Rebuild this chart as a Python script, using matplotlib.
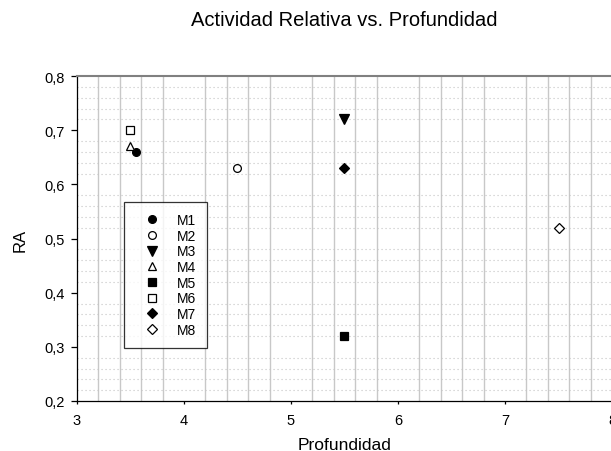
import matplotlib

matplotlib.use("Agg")
import matplotlib.pyplot as plt
import numpy as np
from matplotlib.ticker import FixedLocator, FuncFormatter

plt.rcParams["font.family"] = ["Liberation Sans", "DejaVu Sans"]

# Depth / relative activity per sample
labels = ["M1", "M2", "M3", "M4", "M5", "M6", "M7", "M8"]
depth = [3.55, 4.5, 5.5, 3.5, 5.5, 3.5, 5.5, 7.5]
ra = [0.66, 0.63, 0.72, 0.67, 0.32, 0.70, 0.63, 0.52]

styles = [
    ("o", "black"),
    ("o", "white"),
    ("v", "black"),
    ("^", "white"),
    ("s", "black"),
    ("s", "white"),
    ("D", "black"),
    ("D", "white"),
]
sizes = [5.6, 5.6, 7.2, 5.8, 5.6, 5.6, 5.4, 5.4]

W, H = 611, 452
fig = plt.figure(figsize=(W / 100, H / 100), dpi=100)
# right end (x = 8) sits just past the figure edge
ax = fig.add_axes([77 / W, 50 / H, 535 / W, 325 / H])

for lab, x, y, (m, fc), s in zip(labels, depth, ra, styles, sizes):
    ax.plot([x], [y], linestyle="none", marker=m, markersize=s,
            markerfacecolor=fc, markeredgecolor="black", markeredgewidth=0.9,
            label=lab)

ax.set_xlim(3, 8)
ax.set_ylim(0.2, 0.8)

# grid: solid verticals every 0.2, dotted horizontals every 0.02
xminor = [v for v in np.arange(3.2, 8.0, 0.2) if abs(v - round(v)) > 1e-6]
yminor = [v for v in np.arange(0.22, 0.8, 0.02) if abs(v * 10 - round(v * 10)) > 1e-6]
for v in xminor:
    ax.axvline(v, color="#c8c8c8", linewidth=1.0, zorder=0)
for v in yminor:
    ax.axhline(v, color="#c4c4c4", linewidth=0.8, linestyle=(0, (1, 2.6)), zorder=0)

ax.xaxis.set_major_locator(FixedLocator([3, 4, 5, 6, 7, 8]))
ax.yaxis.set_major_locator(FixedLocator([0.2, 0.3, 0.4, 0.5, 0.6, 0.7, 0.8]))
ax.yaxis.set_major_formatter(FuncFormatter(lambda v, p: f"{v:.1f}".replace(".", ",")))
ax.xaxis.set_major_formatter(FuncFormatter(lambda v, p: f"{v:g}"))
ax.tick_params(axis="y", direction="out", length=4, width=0.9, labelsize=10.5, pad=5)
ax.tick_params(axis="x", direction="out", length=2.5, width=0.9, labelsize=10.5, pad=6.5)

ax.spines["top"].set_color("#808080")
ax.spines["top"].set_linewidth(1.5)
ax.spines["left"].set_linewidth(0.9)
ax.spines["bottom"].set_linewidth(0.9)
ax.spines["right"].set_visible(False)

fig.text(344.5 / W, 1 - 450.5 / H, "Profundidad", ha="center", va="baseline",
         fontsize=12.5)
fig.text(20 / W, 1 - 240 / H, "RA", ha="center", va="center", rotation=90,
         fontsize=12)
fig.text(344.5 / W, 1 - 21 / H, "Actividad Relativa vs. Profundidad",
         ha="center", va="center", fontsize=14.5)

leg = ax.legend(loc="upper left", bbox_to_anchor=(47 / 535, 1 - 126 / 325),
                frameon=True, fancybox=False, edgecolor="black", fontsize=10,
                handletextpad=0.6, labelspacing=0.12, borderpad=0.8,
                handlelength=2.4, markerscale=1.0, borderaxespad=0)
leg.get_frame().set_linewidth(0.9)

fig.savefig("out.png", dpi=100)
